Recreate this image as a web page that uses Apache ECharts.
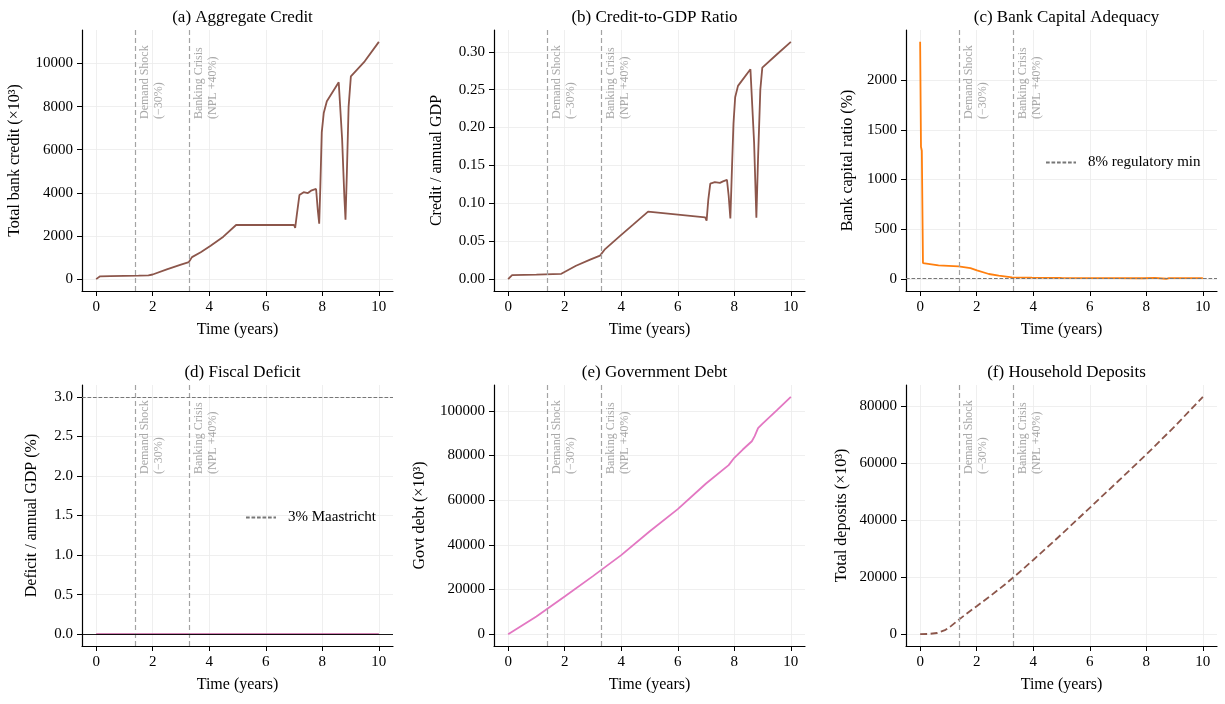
<!DOCTYPE html>
<html>
<head>
<meta charset="utf-8">
<title>Crisis simulation panels</title>
<script src="https://cdn.jsdelivr.net/npm/echarts@6/dist/echarts.min.js"></script>
<style>
  html, body { margin: 0; padding: 0; background: #fff; }
  #main { width: 1225px; height: 704px; }
</style>
</head>
<body>
<div id="main"></div>
<script>
// event markers (years)
const shockT = 1.37;
const crisisT = 3.29;

// (a) aggregate credit, x10^3
const creditT = [0, 0.14, 0.5, 1.0, 1.5, 1.85, 2.0, 2.5, 3.0, 3.28, 3.32, 3.39, 3.7, 4.05, 4.5, 4.95, 7.0, 7.04, 7.1, 7.19, 7.34, 7.49, 7.6, 7.78, 7.84, 7.89, 7.93, 7.98, 8.05, 8.16, 8.58, 8.63, 8.7, 8.78, 8.82, 8.87, 8.93, 9.01, 9.5, 10.0];
const creditV = [0, 130, 140, 150, 160, 175, 215, 450, 670, 790, 850, 1020, 1250, 1550, 1970, 2510, 2510, 2380, 3000, 3900, 4030, 3990, 4100, 4180, 3200, 2570, 4300, 6800, 7700, 8250, 9130, 9120, 6500, 3800, 2750, 5000, 8000, 9400, 10100, 11000];

// (b) credit / annual GDP
const ratioT = [0, 0.14, 1.0, 1.88, 2.4, 2.9, 3.25, 3.31, 3.41, 3.94, 4.42, 4.95, 6.97, 7.02, 7.08, 7.15, 7.31, 7.49, 7.6, 7.74, 7.8, 7.86, 7.92, 7.97, 8.03, 8.13, 8.57, 8.62, 8.7, 8.78, 8.84, 8.92, 8.99, 9.49, 10.0];
const ratioV = [0, 0.0053, 0.006, 0.007, 0.0176, 0.0256, 0.031, 0.029, 0.0388, 0.0564, 0.0718, 0.089, 0.0815, 0.077, 0.105, 0.126, 0.128, 0.127, 0.129, 0.131, 0.11, 0.080, 0.15, 0.205, 0.24, 0.255, 0.277, 0.276, 0.18, 0.081, 0.16, 0.25, 0.279, 0.296, 0.313];

// (c) bank capital ratio, %
const capitalT = [0, 0.03, 0.045, 0.06, 0.1, 0.15, 0.65, 1.36, 1.78, 2.01, 2.43, 2.78, 3.25, 3.96, 5.0, 6.0, 7.0, 7.9, 8.3, 8.7, 8.8, 9.2, 10.0];
const capitalV = [2385, 1330, 1310, 1290, 160, 145, 137, 127, 110, 87, 50, 33, 17, 13, 10, 9, 8, 7, 10, 2, 8, 9, 8];
const capitalMin = 8;

// (d) deficit / annual GDP, %
const deficitT = [0, 2, 4, 6, 8, 10];
const deficitV = [0, 0, 0, 0, 0, 0];
const maastricht = 3;

// (e) government debt, x10^3
const debtT = [0, 1, 2, 3, 4, 5, 6, 7, 7.8, 8.0, 8.3, 8.62, 8.72, 8.84, 9.0, 9.5, 10.0];
const debtV = [0, 7900, 16900, 26000, 35400, 46000, 56000, 67500, 75700, 79000, 82700, 86400, 88700, 92300, 94300, 100200, 106300];

// (f) household deposits, x10^3
const depositT = [0, 0.3, 0.6, 0.9, 1.1, 1.36, 1.7, 2.0, 2.5, 3.0, 3.5, 4.0, 5.0, 6.0, 7.0, 8.0, 9.0, 10.0];
const depositV = [0, 60, 400, 1500, 2900, 5000, 7600, 9800, 13500, 17400, 21600, 26000, 35000, 44300, 53600, 63000, 72800, 83200];

// tick labels
const timeTicks = [0, 2, 4, 6, 8, 10];
const creditTicks = [0, 2000, 4000, 6000, 8000, 10000];
const ratioTicks = [0, 0.05, 0.10, 0.15, 0.20, 0.25, 0.30];
const capitalTicks = [0, 500, 1000, 1500, 2000];
const deficitTicks = [0, 0.5, 1.0, 1.5, 2.0, 2.5, 3.0];
const debtTicks = [0, 20000, 40000, 60000, 80000, 100000];
const depositTicks = [0, 20000, 40000, 60000, 80000];

const FONT = '"Liberation Serif", "DejaVu Serif", "Times New Roman", serif';
const zip = (t, v) => t.map((x, i) => [x, v[i]]);

// grid boxes in px
const colLeft = [82, 494, 906];
const rowTop = [30, 385];
const boxW = 311, boxH = 261;

const panels = [
  {title: '(a) Aggregate Credit', yName: 'Total bank credit (×10³)', gap: 59, min: -550, max: 11550, ticks: creditTicks, fmt: v => String(v),
   data: zip(creditT, creditV), color: '#8c564b'},
  {title: '(b) Credit-to-GDP Ratio', yName: 'Credit / annual GDP', gap: 49, min: -0.0157, max: 0.3287, ticks: ratioTicks, fmt: v => v.toFixed(2),
   data: zip(ratioT, ratioV), color: '#8c564b'},
  {title: '(c) Bank Capital Adequacy', yName: 'Bank capital ratio (%)', gap: 50, min: -121, max: 2504, ticks: capitalTicks, fmt: v => String(v),
   data: zip(capitalT, capitalV), color: '#ff7f0e'},
  {title: '(d) Fiscal Deficit', yName: 'Deficit / annual GDP (%)', gap: 42, min: -0.15, max: 3.15, ticks: deficitTicks, fmt: v => v.toFixed(1),
   data: zip(deficitT, deficitV), color: '#c55a9c'},
  {title: '(e) Government Debt', yName: 'Govt debt (×10³)', gap: 66, min: -5300, max: 111600, ticks: debtTicks, fmt: v => String(v),
   data: zip(debtT, debtV), color: '#e377c2'},
  {title: '(f) Household Deposits', yName: 'Total deposits (×10³)', gap: 56, min: -4160, max: 87360, ticks: depositTicks, fmt: v => String(v),
   data: zip(depositT, depositV), color: '#8c564b', dashed: true}
];

const grids = [], xAxes = [], yAxes = [], titles = [], series = [];

const eventLines = {
  symbol: 'none', silent: true, animation: false,
  lineStyle: {type: [5, 3], color: '#a3a3a3', width: 1.2},
  label: {
    show: true, position: 'insideStartBottom', distance: [172, 3],
    color: '#a8a8a8', fontFamily: FONT, fontSize: 12, lineHeight: 14
  },
  data: [
    {xAxis: shockT, label: {formatter: 'Demand Shock\n(−30%)'}},
    {xAxis: crisisT, label: {formatter: 'Banking Crisis\n(NPL +40%)'}}
  ]
};

panels.forEach((p, i) => {
  const left = colLeft[i % 3], top = rowTop[Math.floor(i / 3)];
  grids.push({left: left, top: top, width: boxW, height: boxH});
  titles.push({
    text: p.title, left: left + boxW / 2, top: top - 26, textAlign: 'center',
    textStyle: {fontFamily: FONT, fontSize: 17, fontWeight: 'normal', color: '#000'}
  });
  xAxes.push({
    gridIndex: i, type: 'value', min: -0.5, max: 10.5,
    name: 'Time (years)', nameLocation: 'middle', nameGap: 31,
    nameTextStyle: {fontFamily: FONT, fontSize: 16, color: '#000'},
    axisLine: {show: true, onZero: false, lineStyle: {color: '#000', width: 1.2}},
    axisTick: {show: true, customValues: timeTicks, length: 5, lineStyle: {color: '#000', width: 1}},
    axisLabel: {customValues: timeTicks, color: '#000', fontFamily: FONT, fontSize: 15, margin: 9},
    splitLine: {show: true, lineStyle: {color: '#ebebeb', width: 0.8}}
  });
  yAxes.push({
    gridIndex: i, type: 'value', min: p.min, max: p.max,
    name: p.yName, nameLocation: 'middle', nameGap: p.gap,
    nameTextStyle: {fontFamily: FONT, fontSize: 16, color: '#000'},
    axisLine: {show: true, onZero: false, lineStyle: {color: '#000', width: 1.2}},
    axisTick: {show: true, customValues: p.ticks, length: 5, lineStyle: {color: '#000', width: 1}},
    axisLabel: {customValues: p.ticks, formatter: p.fmt, color: '#000', fontFamily: FONT, fontSize: 15, margin: 9},
    splitLine: {show: true, lineStyle: {color: '#ebebeb', width: 0.8}}
  });

  const marks = JSON.parse(JSON.stringify(eventLines));
  if (i === 3) {
    marks.data.push({yAxis: 0, lineStyle: {type: 'solid', color: '#000', width: 0.9}, label: {show: false}});
  }
  series.push({
    type: 'line', xAxisIndex: i, yAxisIndex: i, data: p.data,
    showSymbol: false, symbol: 'none', animation: false, z: 3,
    lineStyle: {color: p.color, width: 1.8, type: p.dashed ? [7, 3.5] : 'solid'},
    markLine: marks
  });
});

// threshold lines that appear in the legends
const thresholdStyle = {color: '#777', width: 1, type: [3.7, 1.8]};
series.push({
  name: '8% regulatory min', type: 'line', xAxisIndex: 2, yAxisIndex: 2, data: [],
  symbol: 'none', animation: false, lineStyle: thresholdStyle, itemStyle: {color: '#777'},
  markLine: {symbol: 'none', silent: true, animation: false, label: {show: false}, lineStyle: thresholdStyle,
             data: [{yAxis: capitalMin}]}
});
series.push({
  name: '3% Maastricht', type: 'line', xAxisIndex: 3, yAxisIndex: 3, data: [],
  symbol: 'none', animation: false, lineStyle: thresholdStyle, itemStyle: {color: '#777'},
  markLine: {symbol: 'none', silent: true, animation: false, label: {show: false}, lineStyle: thresholdStyle,
             data: [{yAxis: maastricht}]}
});

const legendBase = {
  orient: 'vertical', itemWidth: 30, itemHeight: 10, selectedMode: false,
  itemStyle: {opacity: 0},
  textStyle: {fontFamily: FONT, fontSize: 15, color: '#000', padding: [0, 0, 0, 7]}
};

const chart = echarts.init(document.getElementById('main'), null, {renderer: 'canvas'});
chart.setOption({
  backgroundColor: '#fff',
  animation: false,
  title: titles,
  grid: grids,
  xAxis: xAxes,
  yAxis: yAxes,
  legend: [
    Object.assign({}, legendBase, {data: ['8% regulatory min'], left: 1040, top: 150}),
    Object.assign({}, legendBase, {data: ['3% Maastricht'], left: 240, top: 505})
  ],
  series: series
});
</script>
</body>
</html>
